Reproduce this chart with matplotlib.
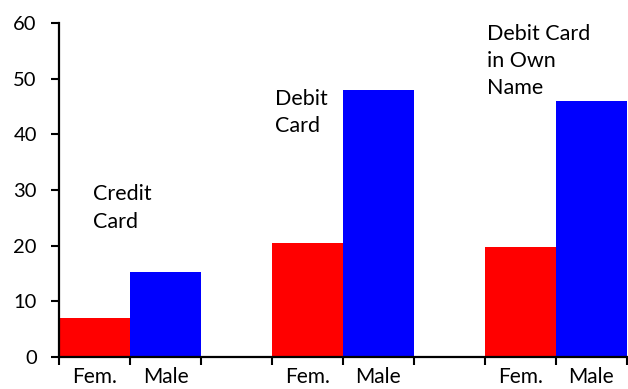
import matplotlib
matplotlib.use("Agg")
import matplotlib.pyplot as plt

plt.rcParams['font.family'] = ['Lato', 'DejaVu Sans']

# Card ownership by gender
groups = ["Credit\nCard", "Debit\nCard", "Debit Card\nin Own\nName"]
female = [7.0, 20.5, 19.7]
male = [15.2, 48.0, 46.0]
bar_labels = ["Fem.", "Male"]
yticks = [0, 10, 20, 30, 40, 50, 60]

fig = plt.figure(figsize=(6.28, 3.89), dpi=100)
ax = fig.add_axes([0.094, 0.082, 0.904, 0.859])

slot = 3  # two bars plus one empty slot per group
fem_x = [g * slot + 0.5 for g in range(len(groups))]
male_x = [g * slot + 1.5 for g in range(len(groups))]
ax.bar(fem_x, female, width=1.0, color="#ff0000", edgecolor="none")
ax.bar(male_x, male, width=1.0, color="#0000ff", edgecolor="none")

ax.set_xlim(0, 8)
ax.set_ylim(0, 60)
ax.set_yticks(yticks)
ax.set_yticklabels([str(v) for v in yticks], fontsize=14.5)

# slot boundaries get tick marks; bar centres get the labels
ax.set_xticks(range(0, 9))
ax.set_xticklabels([])
centers = sorted(fem_x + male_x)
ax.set_xticks(centers, minor=True)
ax.set_xticklabels(bar_labels * len(groups), minor=True, fontsize=15)
ax.tick_params(axis="x", which="minor", length=0, pad=7)
ax.tick_params(axis="x", which="major", length=6, width=1.5, direction="out")
ax.tick_params(axis="y", length=6, width=1.5, direction="out", pad=10)

for side in ("top", "right"):
    ax.spines[side].set_visible(False)
for side in ("left", "bottom"):
    ax.spines[side].set_linewidth(1.6)

# group captions above the bars
label_pos = [(0.48, 31.0), (3.04, 48.1), (6.03, 59.8)]
for text, (x, y) in zip(groups, label_pos):
    ax.text(x, y, text, fontsize=15.5, ha="left", va="top",
            linespacing=1.45, clip_on=False)

fig.savefig("out.png", dpi=100)
